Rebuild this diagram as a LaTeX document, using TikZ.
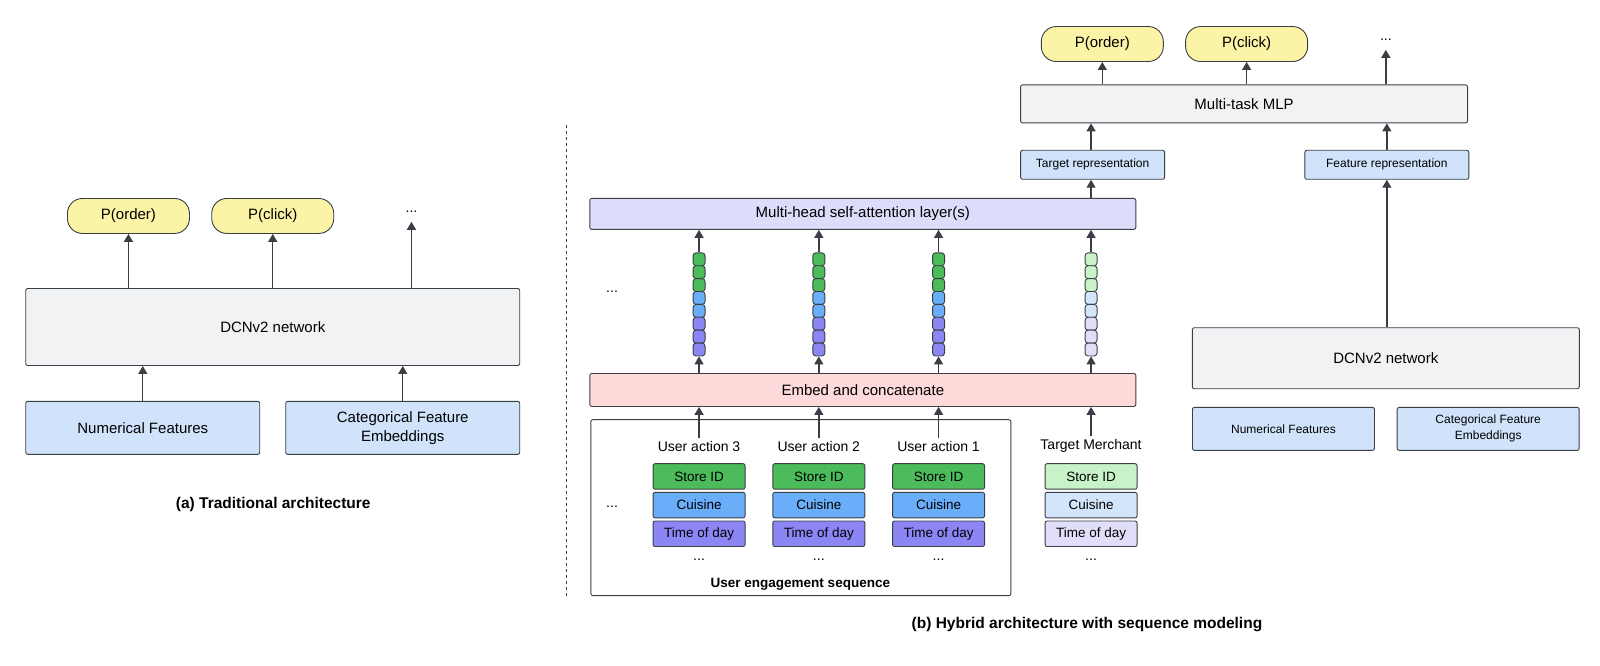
\documentclass[tikz,border=0pt]{standalone}
\usepackage{fontspec}
\setmainfont{Liberation Sans}
\usetikzlibrary{arrows.meta, positioning}
\definecolor{edge}{HTML}{3A3F45}
\definecolor{pyellow}{HTML}{FBF3A6}
\definecolor{lgray}{HTML}{F1F2F4}
\definecolor{lblue}{HTML}{D0E3FB}
\definecolor{lavender}{HTML}{DDDCFA}
\definecolor{lpink}{HTML}{FDD9D9}
\definecolor{cgreen}{HTML}{4CBB5B}
\definecolor{cblue}{HTML}{6AAEF9}
\definecolor{cpurple}{HTML}{8C86F5}
\definecolor{pgreen}{HTML}{C8F2C8}
\definecolor{pblue}{HTML}{D3E5FB}
\definecolor{ppurple}{HTML}{E0DEF8}
\tikzset{
    box/.style={draw=edge, line width=0.9pt, rounded corners=2pt, inner sep=0pt, font=\fontsize{15}{17}\selectfont},
    pill/.style={draw=edge, line width=0.9pt, fill=pyellow, rounded corners=15pt, minimum width=122pt, minimum height=35pt, font=\fontsize{15}{17}\selectfont},
    feat/.style={box, minimum width=92pt, minimum height=25.5pt, font=\fontsize{13.5}{15}\selectfont},
    cell/.style={draw=edge, line width=0.9pt, rounded corners=3pt, minimum width=12pt, minimum height=12.9pt, inner sep=0pt},
    arr/.style={draw=edge, line width=1.4pt, -{Triangle[width=9pt,length=8pt]}},
    lbl/.style={font=\fontsize{14}{16}\selectfont},
}
\begin{document}
\begin{tikzpicture}[x=1.0235pt, y=-1.0235pt]
    % (a) traditional architecture
    \node[box, fill=lgray, minimum width=494pt, minimum height=77pt] (dcnA) at (266.5,319.5) {DCNv2 network};
    \node[box, fill=lblue, minimum width=234pt, minimum height=53pt] (numA) at (139.5,418) {Numerical Features};
    \node[box, fill=lblue, minimum width=234pt, minimum height=53pt, align=center] (catA) at (393.5,418) {Categorical Feature\\[2pt]Embeddings};
    \node[pill] (orderA) at (125.5,211) {P(order)};
    \node[pill] (clickA) at (266.5,211) {P(click)};
    \node[lbl, inner sep=1pt] (dotsA) at (402,207) {...};
    \draw[arr] (numA.north) -- (numA.north |- dcnA.south);
    \draw[arr] (catA.north) -- (catA.north |- dcnA.south);
    \draw[arr] (orderA |- dcnA.north) -- (orderA.south);
    \draw[arr] (clickA |- dcnA.north) -- (clickA.south);
    \draw[arr] (dotsA |- dcnA.north) -- ([yshift=-8pt]dotsA.south);
    \node[font=\bfseries\fontsize{15.5}{17}\selectfont] (capA) at (267,493) {(a) Traditional architecture};

    \draw[edge, dash pattern=on 3pt off 3pt] (553,122) -- (553,582);

    % (b) hybrid architecture
    \node[box, fill=white, minimum width=420pt, minimum height=176pt] (seq) at (782.5,496) {};
    \node[font=\bfseries\fontsize{13.5}{15}\selectfont] (seqlbl) at (782,571) {User engagement sequence};
    \node[box, fill=lavender, minimum width=546pt, minimum height=31pt] (mhsa) at (843,209) {Multi-head self-attention layer(s)};
    \node[box, fill=lpink, minimum width=546pt, minimum height=33pt] (embed) at (843,381) {Embed and concatenate};
    \node[lbl] (dotsL) at (598,285) {...};
    \node[lbl] (dotsF) at (598,495) {...};
    \foreach \x/\name/\txt/\cg/\cb/\cp in {683/ua3/User action 3/cgreen/cblue/cpurple,
                                       800/ua2/User action 2/cgreen/cblue/cpurple,
                                       917/ua1/User action 1/cgreen/cblue/cpurple,
                                       1066/tm/Target Merchant/pgreen/pblue/ppurple}{
        \node[lbl] (\name) at (\x,436) {\txt};
        \node[feat, fill=\cg] (\name-s) at (\x,465.5) {Store ID};
        \node[feat, fill=\cb] (\name-c) at (\x,493.5) {Cuisine};
        \node[feat, fill=\cp] (\name-t) at (\x,521.5) {Time of day};
        \node[lbl] (\name-d) at (\x,547) {...};
        \foreach \i/\c in {1/\cg,2/\cg,3/\cg,4/\cb,5/\cb,6/\cp,7/\cp,8/\cp}
            \node[cell, fill=\c] (\name-v\i) at (\x,{247+(\i-0.5)*12.6}) {};
        \draw[arr] (\name.north) -- (\name |- embed.south);
        \draw[arr] (\name |- embed.north) -- (\name-v8.south);
        \draw[arr] (\name-v1.north) -- (\name |- mhsa.south);
    }
    \node[box, fill=lblue, minimum width=144pt, minimum height=29pt, font=\fontsize{12}{14}\selectfont] (trep) at (1067.5,161) {Target representation};
    \node[box, fill=lblue, minimum width=164pt, minimum height=29pt, font=\fontsize{12}{14}\selectfont] (frep) at (1355,161) {Feature representation};
    \node[box, fill=lgray, minimum width=447pt, minimum height=38pt] (mlp) at (1215.5,101.5) {Multi-task MLP};
    \node[pill] (orderB) at (1077,43) {P(order)};
    \node[pill] (clickB) at (1218,43) {P(click)};
    \node[lbl, inner sep=1pt] (dotsB) at (1354,39) {...};
    \node[box, fill=lgray, minimum width=387pt, minimum height=61pt] (dcnB) at (1354,350) {DCNv2 network};
    \node[box, fill=lblue, minimum width=182pt, minimum height=43pt, font=\fontsize{12}{14}\selectfont] (numB) at (1254,419) {Numerical Features};
    \node[box, fill=lblue, minimum width=182pt, minimum height=43pt, align=center, font=\fontsize{12}{14}\selectfont] (catB) at (1454,419) {Categorical Feature\\[2pt]Embeddings};
    \draw[arr] (tm |- mhsa.north) -- (tm |- trep.south);
    \draw[arr] (tm |- trep.north) -- (tm |- mlp.south);
    \draw[arr] (frep |- dcnB.north) -- (frep.south);
    \draw[arr] (frep.north) -- (frep |- mlp.south);
    \draw[arr] (orderB |- mlp.north) -- (orderB.south);
    \draw[arr] (clickB |- mlp.north) -- (clickB.south);
    \draw[arr] (dotsB |- mlp.north) -- ([yshift=-8pt]dotsB.south);
    \node[font=\bfseries\fontsize{15.5}{17}\selectfont] (capB) at (1062,610) {(b) Hybrid architecture with sequence modeling};
    \pgfresetboundingbox
    \useasboundingbox (0pt,0pt) rectangle (1600pt,-665pt);
\end{tikzpicture}
\end{document}
